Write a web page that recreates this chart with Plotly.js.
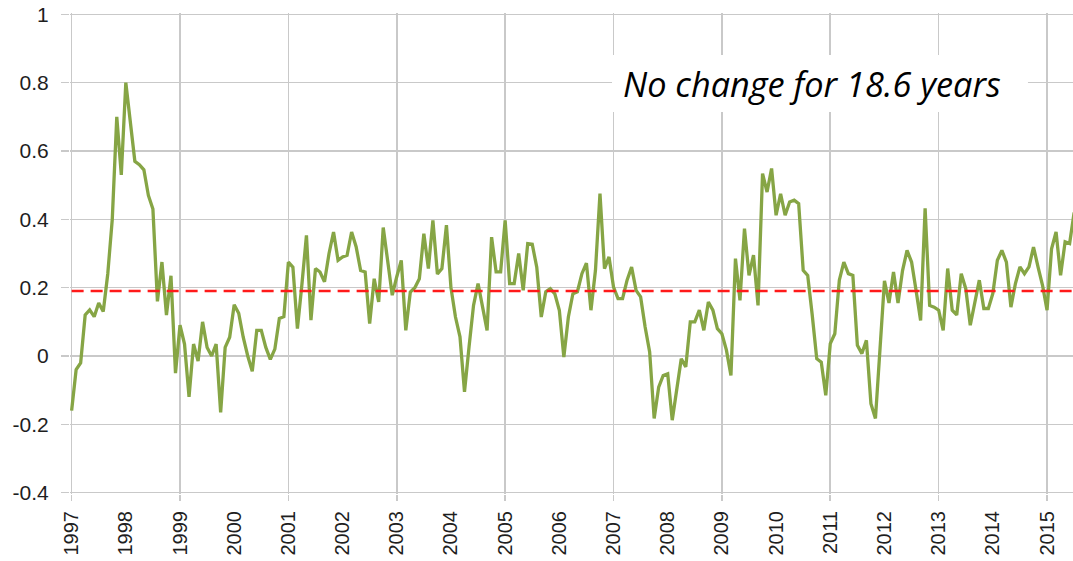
<!DOCTYPE html>
<html>
<head>
<meta charset="utf-8">
<script src="https://cdn.plot.ly/plotly-3.0.1.min.js"></script>
<style>html,body{margin:0;padding:0;background:#fff;}#chart{width:1073px;height:561px;}</style>
</head>
<body>
<div id="chart"></div>
<script>
// Monthly anomalies (°C), Jan 1997 onwards
var anomalies = [
  -0.16, -0.04, -0.02, 0.12, 0.135, 0.115, 0.155, 0.13, 0.24, 0.40,
  0.70, 0.53, 0.80, 0.68, 0.57, 0.56, 0.545, 0.47, 0.43, 0.16,
  0.275, 0.12, 0.235, -0.05, 0.09, 0.035, -0.12, 0.035, -0.015, 0.10,
  0.025, 0.00, 0.035, -0.165, 0.025, 0.055, 0.15, 0.125, 0.055, 0.00,
  -0.045, 0.075, 0.075, 0.025, -0.01, 0.02, 0.11, 0.115, 0.275, 0.26,
  0.08, 0.21, 0.353, 0.105, 0.256, 0.246, 0.217, 0.30, 0.363, 0.28,
  0.29, 0.295, 0.363, 0.32, 0.25, 0.246, 0.095, 0.226, 0.158, 0.376,
  0.275, 0.178, 0.232, 0.28, 0.075, 0.187, 0.20, 0.226, 0.358, 0.256,
  0.397, 0.24, 0.256, 0.383, 0.20, 0.114, 0.056, -0.105, 0.026, 0.148,
  0.212, 0.143, 0.075, 0.348, 0.246, 0.246, 0.397, 0.212, 0.212, 0.30,
  0.192, 0.329, 0.327, 0.26, 0.114, 0.188, 0.197, 0.182, 0.134, -0.003,
  0.114, 0.182, 0.188, 0.241, 0.272, 0.134, 0.251, 0.475, 0.256, 0.29,
  0.202, 0.168, 0.168, 0.222, 0.26, 0.192, 0.173, 0.085, 0.012, -0.183,
  -0.091, -0.057, -0.052, -0.188, -0.091, -0.008, -0.032, 0.10, 0.10, 0.134,
  0.075, 0.158, 0.134, 0.08, 0.065, 0.017, -0.057, 0.285, 0.163, 0.373,
  0.236, 0.295, 0.148, 0.534, 0.48, 0.549, 0.412, 0.475, 0.412, 0.451,
  0.456, 0.446, 0.251, 0.236, 0.12, -0.008, -0.018, -0.115, 0.036, 0.065,
  0.222, 0.275, 0.241, 0.236, 0.031, 0.007, 0.046, -0.14, -0.183, 0.02,
  0.22, 0.155, 0.246, 0.155, 0.25, 0.309, 0.275, 0.192, 0.104, 0.432,
  0.148, 0.143, 0.134, 0.075, 0.256, 0.134, 0.12, 0.241, 0.197, 0.09,
  0.153, 0.222, 0.139, 0.139, 0.183, 0.28, 0.309, 0.275, 0.143, 0.212,
  0.261, 0.241, 0.261, 0.319, 0.261, 0.207, 0.134, 0.314, 0.363, 0.236,
  0.334, 0.329, 0.42
];
var startYear = 1997;
var trendStart = [1997, 2015.6];
var trendValue = [0.19, 0.19];
var yearTicks = [1997,1998,1999,2000,2001,2002,2003,2004,2005,2006,2007,2008,2009,2010,2011,2012,2013,2014,2015];
var yearLabels = ['1997','1998','1999','2000','2001','2002','2003','2004','2005','2006','2007','2008','2009','2010','2011','2012','2013','2014','2015'];
var gridYears = [1997,1999,2001,2003,2005,2007,2009,2011,2013,2015];
var yTicks = [-0.4,-0.2,0,0.2,0.4,0.6,0.8,1];
var yLabels = ['-0.4','-0.2','0','0.2','0.4','0.6','0.8','1'];
var noteText = 'No change for 18.6 years';

var months = anomalies.map(function(_, i){ return startYear + i/12; });

var grid = '#c9c9c9';
var xRange = [1996.97, 2015.479];

var traces = [
  {x: months, y: anomalies, type: 'scatter', mode: 'lines',
   line: {color: '#86a545', width: 3.3}, xaxis: 'x', yaxis: 'y', hoverinfo: 'skip'},
  {x: trendStart, y: trendValue, type: 'scatter', mode: 'lines',
   line: {color: '#ff1a1a', width: 2.5, dash: '12px,7px'}, xaxis: 'x2', yaxis: 'y', hoverinfo: 'skip'}
];

var layout = {
  width: 1073, height: 561,
  margin: {l: 70, r: 0, t: 13, b: 67, pad: 0},
  paper_bgcolor: '#ffffff', plot_bgcolor: '#ffffff',
  showlegend: false,
  font: {family: 'Liberation Sans, Arial, sans-serif', color: '#1e1e1e'},
  xaxis: {
    range: xRange, tickvals: yearTicks, ticktext: yearLabels, tickangle: -90,
    showgrid: false, zeroline: false, showline: false, ticks: '',
    tickfont: {size: 20, color: '#1e1e1e'}, ticklabelstandoff: 12
  },
  xaxis2: {
    overlaying: 'x', anchor: 'y', side: 'bottom', range: xRange,
    tickvals: gridYears, showticklabels: false,
    showgrid: true, gridcolor: grid, gridwidth: 1.6,
    ticks: 'outside', ticklen: 6, tickcolor: grid, tickwidth: 1.6,
    zeroline: false, showline: false
  },
  yaxis: {
    range: [-0.404, 1.004], tickvals: yTicks, ticktext: yLabels,
    showgrid: true, gridcolor: grid, gridwidth: 1.6,
    ticks: 'outside', ticklen: 8, tickcolor: grid, tickwidth: 1.6,
    zeroline: false, showline: false,
    tickfont: {size: 21, color: '#1e1e1e'}, ticklabelstandoff: 8
  },
  shapes: [{
    type: 'rect', xref: 'paper', yref: 'paper', layer: 'above',
    x0: 0.5404, x1: 0.9551, y0: 0.7942, y1: 0.9127,
    fillcolor: '#ffffff', line: {width: 0}
  }],
  annotations: [{
    text: noteText, xref: 'paper', yref: 'paper',
    x: 0.5513, y: 0.8524, xanchor: 'left', yanchor: 'middle',
    showarrow: false, borderpad: 0, borderwidth: 0,
    font: {family: 'Open Sans, sans-serif', size: 34.3, style: 'italic', color: '#000000'}
  }]
};

Plotly.newPlot('chart', traces, layout, {displayModeBar: false, staticPlot: true});
</script>
</body>
</html>
